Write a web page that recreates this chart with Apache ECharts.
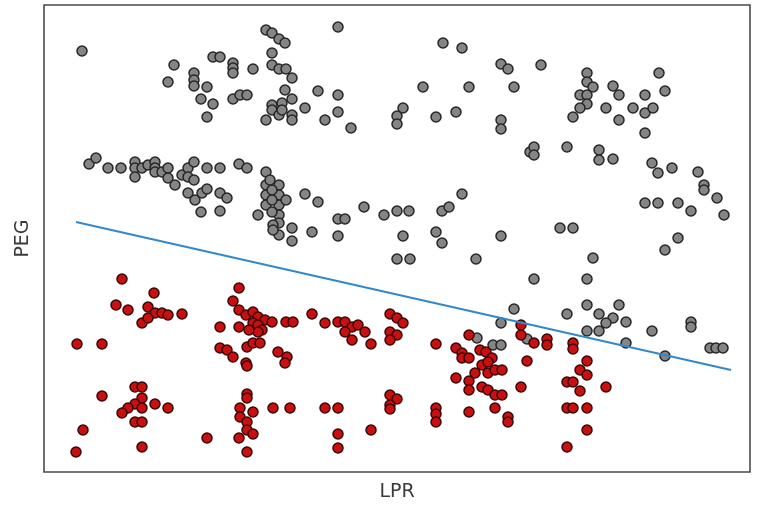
<!DOCTYPE html>
<html><head><meta charset="utf-8">
<script src="https://cdn.jsdelivr.net/npm/echarts@6/dist/echarts.min.js"></script>
<style>html,body{margin:0;padding:0;background:#fff}#c{width:757px;height:510px}</style>
</head><body><div id="c"></div>
<script>
// LPR / PEG values (arbitrary units)
const grayPoints = [
[38,421],[130,407],[124,390],[150,399],[150,392],[150,386],[163,385],[157,373],[169,368],[163,355],
[169,415],[176,415],[189,409],[189,404],[189,399],[209,403],[189,373],[196,377],[203,377],
[222,442],[228,439],[235,433],[241,429],[228,419],[228,407],[235,403],[242,403],[248,394],[241,382],
[248,373],[238,369],[228,367],[228,362],[235,357],[222,352],[238,362],[248,357],[248,352],[261,364],
[274,381],[294,377],[294,360],[281,352],[294,445],[307,344],[359,364],[353,356],[353,348],[392,355],
[412,360],[379,385],[399,429],[418,424],[425,385],[457,408],[464,403],[470,385],[457,352],[457,343],
[497,407],[543,399],[543,390],[549,385],[536,377],[543,377],[543,368],[536,364],[529,355],[569,386],
[575,377],[562,364],[575,352],[589,364],[601,377],[601,359],[609,364],[615,399],[621,381],[601,339],
[486,320],[490,325],[490,317],[523,325],[555,322],[555,312],[569,313],[608,309],[614,299],[628,304],
[654,300],[660,287],[660,282],[673,274],[680,257],[601,269],[614,269],[634,269],[647,261],[516,244],
[529,244],[634,234],[621,222],[549,214],[490,193],[543,193],[543,167],[575,167],[523,158],[555,158],
[569,154],[562,149],[582,150],[543,141],[555,141],[608,141],[647,150],[647,145],[582,129],[621,116],
[666,124],[672,124],[679,124],[470,163],[457,149],[433,134],[449,127],[457,127],[483,133],
[45,308],[52,314],[64,304],[77,304],[91,310],[91,304],[91,295],[98,304],[104,307],[111,310],[111,304],
[111,300],[118,300],[124,304],[124,294],[131,287],[138,297],[144,304],[144,295],[150,310],[150,292],
[163,304],[176,304],[144,279],[151,272],[158,279],[163,283],[157,260],[176,279],[183,274],[176,261],
[195,308],[203,304],[222,300],[222,287],[222,277],[222,267],[214,257],[235,287],[235,277],[235,267],
[235,257],[235,249],[235,237],[229,247],[229,242],[228,282],[228,272],[228,260],[242,272],[226,292],
[248,244],[248,231],[261,278],[274,270],[320,265],[340,257],[353,261],[365,261],[294,253],[301,253],
[398,261],[405,265],[418,278],[268,240],[294,236],[359,236],[392,240],[457,236],[398,229],[353,213],
[366,213],[432,213]
];
const redPoints = [
[33,128],[58,128],[78,193],[72,167],[84,162],[110,179],[104,165],[111,159],[118,159],[124,157],
[138,158],[98,149],[104,154],[195,184],[189,171],[195,162],[202,157],[209,160],[214,155],[221,152],
[228,150],[209,149],[214,147],[218,142],[214,140],[205,142],[242,150],[249,150],[176,145],[195,145],
[176,124],[183,122],[203,125],[209,129],[216,129],[189,115],[234,120],[243,115],[202,109],[241,109],
[268,158],[281,149],[294,150],[301,150],[308,145],[314,147],[301,140],[321,140],[308,132],[327,128],
[346,158],[353,154],[359,149],[346,140],[353,137],[346,132],[392,128],[412,124],[418,119],[425,137],
[436,122],[442,120],[448,114],[418,114],[425,114],[438,107],[444,110],[444,99],[451,102],[458,102],
[431,99],[412,94],[425,91],[425,82],[438,85],[444,82],[451,77],[458,77],[477,85],[483,111],[477,147],
[477,137],[425,60],[451,64],[464,55],[464,50],[392,64],[392,58],[392,50],[490,129],[503,133],[503,127],
[529,129],[529,123],[543,111],[536,102],[543,97],[523,90],[529,90],[536,81],[562,85],[523,64],[529,64],
[543,64],[543,42],[523,25],
[58,76],[91,85],[98,85],[98,74],[91,68],[84,64],[78,59],[98,64],[111,68],[124,64],[91,50],[98,50],
[39,42],[32,20],[98,25],[163,34],[203,78],[203,74],[196,64],[196,55],[209,60],[203,50],[203,42],
[209,38],[195,34],[203,20],[229,64],[246,64],[203,106],[281,64],[294,64],[294,38],[294,24],[327,42],
[346,77],[353,73],[346,67],[346,63]
];
const fitLine = [[32,250],[687,102]];
const xName = 'LPR', yName = 'PEG';

const chart = echarts.init(document.getElementById('c'), null, {renderer:'canvas'});
const hiddenAxis = {type:'value', axisLine:{show:false}, axisTick:{show:false}, axisLabel:{show:false}, splitLine:{show:false},
  nameLocation:'middle', nameTextStyle:{fontFamily:'DejaVu Sans', fontSize:19, color:'#3a3a3a'}};
chart.setOption({
  animation:false,
  backgroundColor:'#fff',
  grid:{left:44, top:5, right:7, bottom:38, show:true, borderColor:'#4a4a4a', borderWidth:1.6, backgroundColor:'transparent'},
  xAxis:Object.assign({}, hiddenAxis, {min:0, max:706, name:xName, nameGap:11}),
  yAxis:Object.assign({}, hiddenAxis, {min:0, max:467, name:yName, nameGap:11}),
  series:[
    {type:'scatter', data:grayPoints, symbolSize:10, itemStyle:{color:'#858585', borderColor:'#262626', borderWidth:1.5, opacity:1}, z:2},
    {type:'scatter', data:redPoints, symbolSize:10, itemStyle:{color:'#c81010', borderColor:'#3a0606', borderWidth:1.5, opacity:1}, z:3},
    {type:'line', data:fitLine, symbol:'none', lineStyle:{color:'#3388cc', width:2}, z:4}
  ]
});
</script></body></html>
